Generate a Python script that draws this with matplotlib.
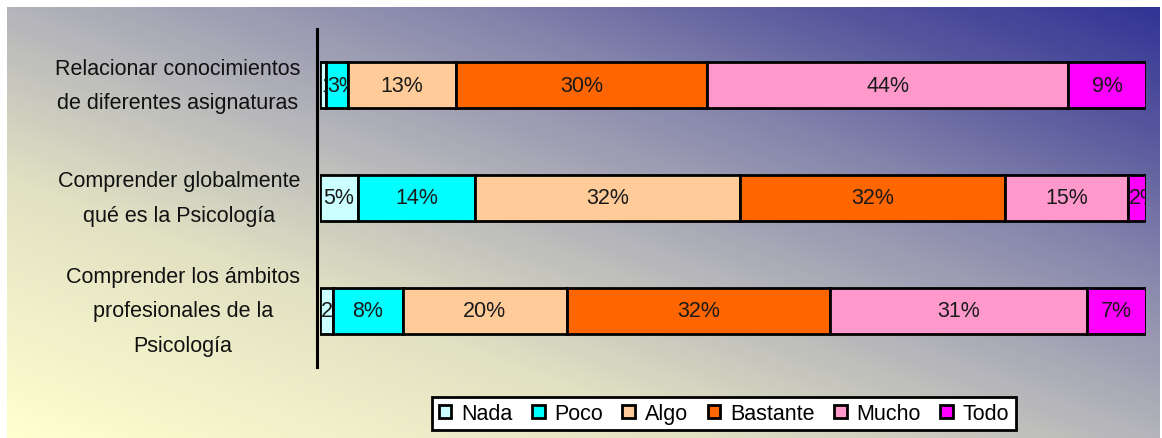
import numpy as np
import matplotlib
matplotlib.use("Agg")
import matplotlib.pyplot as plt
from matplotlib.colors import LinearSegmentedColormap
from matplotlib.transforms import Bbox, TransformedBbox, blended_transform_factory, offset_copy

plt.rcParams['font.family'] = ['Liberation Sans', 'DejaVu Sans']

categories = [
    "Relacionar conocimientos\nde diferentes asignaturas",
    "Comprender globalmente\nqué es la Psicología",
    "Comprender los ámbitos\nprofesionales de la\nPsicología",
]
series = ["Nada", "Poco", "Algo", "Bastante", "Mucho", "Todo"]
nada = [0.7, 4.6, 1.6]
poco = [2.7, 14.2, 8.4]
algo = [13.1, 32.1, 19.9]
bastante = [30.4, 32.0, 31.8]
mucho = [43.7, 14.9, 31.2]
todo = [9.4, 2.2, 7.1]
values = [nada, poco, algo, bastante, mucho, todo]
colors = ["#CCFFFF", "#00FFFF", "#FFCC99", "#FF6600", "#FF99CC", "#FF00FF"]

W, H = 1162, 439
FS = 15.5
fig = plt.figure(figsize=(W / 100, H / 100), dpi=100)
fig.patch.set_facecolor("white")

# gradient background
bg = fig.add_axes([7 / W, 0, (W - 9) / W, (H - 8) / H])
bg.set_axis_off()
nx, ny = 300, 120
X, Y = np.meshgrid(np.linspace(0, 1, nx), np.linspace(1, 0, ny))
t = (X + Y) / 2
stops = [(0.0, (255, 255, 208)), (0.3, (225, 225, 195)), (0.5, (180, 180, 186)),
         (0.7, (132, 132, 172)), (0.85, (88, 88, 158)), (1.0, (52, 52, 150))]
cmap = LinearSegmentedColormap.from_list(
    "bgc", [(p, tuple(c / 255 for c in col)) for p, col in stops])
bg.imshow(t, cmap=cmap, aspect="auto", extent=[0, 1, 0, 1], vmin=0, vmax=1,
          interpolation="bilinear")
bg.set_xlim(0, 1)
bg.set_ylim(0, 1)

ax = fig.add_axes([320 / W, (H - 368) / H, 826 / W, 338 / H])
ax.patch.set_alpha(0)
ypos = np.arange(len(categories))
left = np.zeros(len(categories))
bar_h = 46 / 112.7
items = []
for name, vals, col in zip(series, values, colors):
    bars = ax.barh(ypos, vals, left=left, height=bar_h, color=col,
                   edgecolor="black", linewidth=2.0, label=name)
    for b, v, l in zip(bars, vals, left):
        yc = b.get_y() + b.get_height() / 2
        txt = ax.text(l + v / 2, yc, f"{round(v):d}%",
                      ha="center", va="center", fontsize=FS, color="#1a1a1a",
                      clip_on=True)
        txt.set_clip_box(TransformedBbox(
            Bbox([[l, b.get_y()], [l + v, b.get_y() + b.get_height()]]), ax.transData))
        items.append((txt, b, l, v))
    left = left + np.array(vals)

ax.set_xlim(0, 100)
ax.set_ylim(2.5, -0.5)
ax.set_yticks([])
ax.set_xticks([])
for s in ["top", "right", "bottom"]:
    ax.spines[s].set_visible(False)
ax.spines["left"].set_linewidth(2.2)
ax.spines["left"].set_position(("outward", 2))

# category labels
tr = offset_copy(blended_transform_factory(ax.transAxes, ax.transData),
                 fig=fig, x=-20, y=0, units="dots")
for yv, cat in zip(ypos, categories):
    ax.text(0, yv, cat, transform=tr, ha="right", va="center",
            multialignment="center", fontsize=FS, linespacing=1.85,
            color="#111111", clip_on=False)

fig.canvas.draw()
r = fig.canvas.get_renderer()
for txt, b, l, v in items:
    tw = txt.get_window_extent(r).width
    bw = b.get_window_extent(r).width
    if tw > bw - 2:
        txt.set_x(l + 0.15)
        txt.set_horizontalalignment("left")

leg = fig.legend(loc="center", bbox_to_anchor=(724 / W, (H - 414.5) / H), ncol=6,
                 fontsize=FS, frameon=True, fancybox=False, handlelength=0.6,
                 handleheight=0.6, handletextpad=0.45, columnspacing=0.9,
                 borderpad=0.3, borderaxespad=0)
leg.get_frame().set_edgecolor("black")
leg.get_frame().set_linewidth(2.0)
leg.get_frame().set_facecolor("white")
leg.get_frame().set_alpha(1)
for h in leg.legend_handles:
    h.set_linewidth(2.0)

fig.savefig("out.png", dpi=100)
